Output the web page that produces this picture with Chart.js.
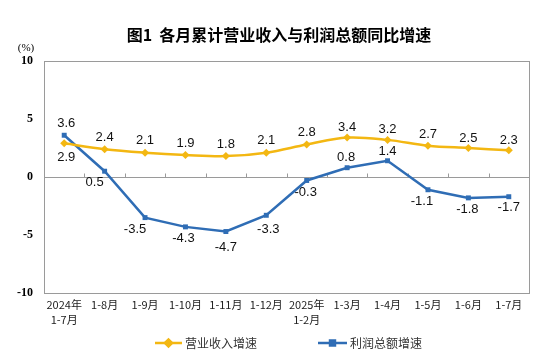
<!DOCTYPE html>
<html><head><meta charset="utf-8">
<script src="https://cdn.jsdelivr.net/npm/chart.js@4/dist/chart.umd.min.js"></script>
<style>html,body{margin:0;padding:0;background:#fff}#wrap{width:558px;height:357px;position:relative}</style>
</head><body><div id="wrap"><canvas id="c"></canvas></div>
<script>
const categories = [["2024年","1-7月"],"1-8月","1-9月","1-10月","1-11月","1-12月",["2025年","1-2月"],"1-3月","1-4月","1-5月","1-6月","1-7月"];
const revenueGrowth = [2.9,2.4,2.1,1.9,1.8,2.1,2.8,3.4,3.2,2.7,2.5,2.3];
const profitGrowth = [3.6,0.5,-3.5,-4.3,-4.7,-3.3,-0.3,0.8,1.4,-1.1,-1.8,-1.7];
const yTickValues = [-10,-5,0,5,10];
const seriesNames = ["营业收入增速","利润总额增速"];
const titleText = "图1  各月累计营业收入与利润总额同比增速";
const unitText = "(%)";

const YELLOW = "#F3B712";
const BLUE = "#2F6DB5";
const CJK = '"Noto Sans CJK SC", sans-serif';

// label placement style per point: [dx, dy] relative to the point
const labelStyle = {
  0: [[2,14],[0,-12],[0,-12],[0,-12],[0,-12],[0,-12],[0,-12],[0,-10],[0,-10],[0,-11],[0,-10],[0,-10]],
  1: [[2,-12],[-10,11],[-10,12],[-2,12],[0,16],[2,14],[-1,12],[-1,-10],[0,-9],[-6,12],[-1,12],[0,11]]
};

const extras = {
  id: 'extras',
  beforeDatasetsDraw(chart) {
    const {ctx, chartArea: a, scales: {x, y}} = chart;
    ctx.save();
    ctx.strokeStyle = '#9a9a9a';
    ctx.lineWidth = 1;
    ctx.strokeRect(Math.round(a.left)+0.5, Math.round(a.top)+0.5, Math.round(a.right-a.left), Math.round(a.bottom-a.top));
    const y0 = Math.round(y.getPixelForValue(0)) + 0.5;
    ctx.beginPath();
    ctx.moveTo(a.left, y0); ctx.lineTo(a.right, y0);
    const n = categories.length;
    for (let i = 1; i < n; i++) {
      const xb = Math.round((x.getPixelForValue(i-1) + x.getPixelForValue(i))/2) + 0.5;
      ctx.moveTo(xb, y0); ctx.lineTo(xb, y0 - 4);
    }
    ctx.stroke();
    ctx.restore();
  },
  afterDraw(chart) {
    const {ctx} = chart;
    ctx.save();
    // title
    ctx.fillStyle = '#000';
    ctx.font = 'bold 16px ' + CJK;
    ctx.textAlign = 'center';
    ctx.textBaseline = 'middle';
    ctx.fillText(titleText, 279, 35);
    // unit
    ctx.font = '11px "Liberation Serif", serif';
    ctx.fillText(unitText, 26, 48);
    // data labels
    ctx.font = '13px "Liberation Sans", Arial, sans-serif';
    ctx.fillStyle = '#111';
    chart.data.datasets.forEach((ds, di) => {
      const meta = chart.getDatasetMeta(di);
      meta.data.forEach((pt, i) => {
        const [dx, dy] = labelStyle[di][i];
        ctx.fillText(ds.data[i].toFixed(1), pt.x + dx, pt.y + dy);
      });
    });
    // legend
    const items = [
      {ds: 0, x1: 155, x2: 182, tx: 185},
      {ds: 1, x1: 318, x2: 347, tx: 350}
    ];
    const ly = 343;
    items.forEach(it => {
      const ds = chart.data.datasets[it.ds];
      ctx.strokeStyle = ds.borderColor;
      ctx.lineWidth = 2.5;
      ctx.beginPath(); ctx.moveTo(it.x1, ly); ctx.lineTo(it.x2, ly); ctx.stroke();
      Chart.helpers.drawPoint(ctx, {pointStyle: ds.pointStyle, radius: 3.5, borderWidth: 1}, (it.x1+it.x2)/2, ly);
      ctx.fillStyle = ds.borderColor;
      ctx.fill();
      ctx.fillStyle = '#333';
      ctx.font = '12px ' + CJK;
      ctx.textAlign = 'left';
      ctx.fillText(ds.label, it.tx, ly);
    });
    ctx.restore();
  }
};

new Chart(document.getElementById('c'), {
  type: 'line',
  data: {
    labels: categories,
    datasets: [
      {label: seriesNames[0], data: revenueGrowth, borderColor: YELLOW, backgroundColor: YELLOW,
       borderWidth: 2.5, tension: 0.35, pointStyle: 'rectRot', pointRadius: 4, pointBorderWidth: 0},
      {label: seriesNames[1], data: profitGrowth, borderColor: BLUE, backgroundColor: BLUE,
       borderWidth: 2.5, tension: 0, pointStyle: 'rect', pointRadius: 3.5, pointBorderWidth: 0}
    ]
  },
  options: {
    responsive: true,
    maintainAspectRatio: false,
    animation: false,
    layout: {padding: {left: 0, right: 29, top: 61, bottom: 0}},
    plugins: {legend: {display: false}, title: {display: false}, tooltip: {enabled: false}},
    scales: {
      x: {
        offset: true,
        grid: {display: false, drawTicks: false},
        border: {display: false},
        ticks: {color: '#222', font: {size: 11, family: CJK, lineHeight: 1.3}, padding: 5, maxRotation: 0, autoSkip: false},
        afterFit(s) { s.height = 64; }
      },
      y: {
        min: -10, max: 10,
        grid: {display: false, drawTicks: false},
        border: {display: false},
        afterBuildTicks(s) { s.ticks = yTickValues.map(v => ({value: v})); },
        ticks: {color: '#000', font: {size: 12, weight: 'bold', family: '"Liberation Serif", serif'}, padding: 11},
        afterFit(s) { s.width = 44; }
      }
    }
  },
  plugins: [extras]
});
</script>
</body></html>
